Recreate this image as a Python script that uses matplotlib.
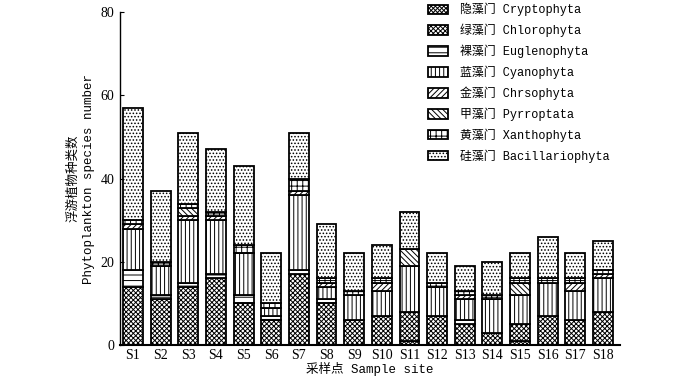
import matplotlib
matplotlib.use("Agg")
import matplotlib.pyplot as plt
import numpy as np

plt.rcParams['hatch.linewidth'] = 0.7

sites = ["S%d" % i for i in range(1, 19)]

# species number per phylum, S1..S18
cryptophyta = [0, 0, 0, 0, 0, 0, 0, 0, 0, 0, 1, 0, 0, 0, 1, 0, 0, 0]
chlorophyta = [14, 11, 14, 16, 10, 6, 17, 10, 6, 7, 7, 7, 5, 3, 4, 7, 6, 8]
euglenophyta = [4, 1, 1, 1, 2, 1, 1, 1, 0, 0, 0, 0, 1, 0, 0, 0, 0, 0]
cyanophyta = [10, 7, 15, 13, 10, 2, 18, 3, 6, 6, 11, 7, 5, 8, 7, 8, 7, 8]
chrysophyta = [1, 0, 1, 1, 0, 0, 1, 1, 0, 2, 0, 0, 1, 0, 0, 0, 2, 1]
pyrrophyta = [0, 0, 2, 0, 0, 0, 0, 0, 0, 0, 4, 0, 0, 0, 3, 0, 0, 0]
xanthophyta = [1, 1, 1, 1, 2, 1, 3, 1, 1, 1, 0, 1, 1, 1, 1, 1, 1, 1]
bacillariophyta = [27, 17, 17, 15, 19, 12, 11, 13, 9, 8, 9, 7, 6, 8, 6, 10, 6, 7]

names = ["隐藻门 Cryptophyta", "绿藻门 Chlorophyta", "裸藻门 Euglenophyta",
         "蓝藻门 Cyanophyta", "金藻门 Chrsophyta", "甲藻门 Pyrroptata",
         "黄藻门 Xanthophyta", "硅藻门 Bacillariophyta"]
series = [cryptophyta, chlorophyta, euglenophyta, cyanophyta,
          chrysophyta, pyrrophyta, xanthophyta, bacillariophyta]
hatches = ["xxxxxxxx", "xxxxxxx", "---", "||||", "//////", "\\\\\\\\\\\\", "+++", "....."]

mono = ['Liberation Mono', 'Noto Sans CJK SC']
serif = ['Liberation Serif', 'Noto Sans CJK SC']

fig = plt.figure(figsize=(7, 3.8), dpi=100)
ax = fig.add_axes([0.171, 0.092, 0.715, 0.876])

x = np.arange(len(sites))
bottom = np.zeros(len(sites))
handles = []
for vals, name, h in zip(series, names, hatches):
    vals = np.array(vals, dtype=float)
    b = ax.bar(x, vals, 0.72, bottom=bottom, color="white", edgecolor="black",
               linewidth=1.3, hatch=h, label=name)
    handles.append(b)
    bottom += vals

ax.set_xlim(-0.48, 17.62)
ax.set_ylim(0, 80)
ax.set_xticks(x)
ax.set_xticklabels(sites, fontfamily=serif, fontsize=10)
ax.set_yticks([0, 20, 40, 60, 80])
ax.set_yticklabels(["0", "20", "40", "60", "80"], fontfamily=serif, fontsize=10)
ax.tick_params(axis="x", length=0, pad=3)
ax.tick_params(axis="y", direction="in", length=3, pad=4)
for s in ["top", "right"]:
    ax.spines[s].set_visible(False)
ax.spines["left"].set_linewidth(1.0)
ax.spines["bottom"].set_linewidth(1.5)

ax.set_xlabel("采样点 Sample site", fontfamily=mono, fontsize=9, labelpad=0)
ax.set_ylabel("浮游植物种类数\nPhytoplankton species number", fontfamily=mono,
              fontsize=9, labelpad=4, linespacing=1.35)

leg = ax.legend(handles=handles, loc="upper right", bbox_to_anchor=(1.0, 1.06),
                frameon=False, prop={"family": mono, "size": 8.6},
                handlelength=1.7, handleheight=0.85, labelspacing=0.62,
                handletextpad=1.0)

fig.savefig("out.png", dpi=100)
